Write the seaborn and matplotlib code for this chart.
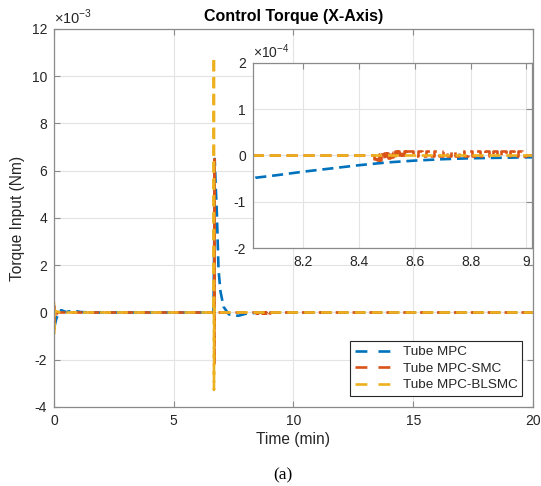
import matplotlib
matplotlib.use("Agg")
import matplotlib.pyplot as plt
import seaborn as sns
import pandas as pd

# ---- data (torque in 1e-3 Nm for the main view, time in minutes) ----
t_mpc = [0.0, 0.02, 0.1, 0.2, 0.3, 0.5, 0.8, 1.1, 1.5, 6.66, 6.69, 6.71, 6.75,
         6.80, 6.87, 6.95, 7.08, 7.3, 7.7, 8.03, 8.1, 8.2, 8.3, 8.4, 8.5,
         8.6, 8.7, 8.8, 8.9, 9.0, 10.0, 20.0]
u_mpc = [0.0, -0.6, -0.25, -0.05, 0.1, 0.02, 0.08, 0.02, 0.0, 0.0, 3.0, 6.5, 5.4,
         4.2, 1.8, 0.9, 0.24, -0.08, -0.14, -0.048, -0.043, -0.035, -0.028,
         -0.021, -0.015, -0.011, -0.008, -0.006, -0.005, -0.004, -0.001, 0.0]

t_smc = [0.0, 0.01, 0.02, 0.04, 0.1, 0.3, 6.665, 6.67, 6.675, 6.68, 6.69,
         8.450, 8.455, 8.460, 8.465, 8.470, 8.475, 8.480, 8.485, 8.490, 8.495,
         8.500, 8.505, 8.510, 8.515, 8.520, 8.525, 8.530, 8.535, 8.540, 8.545,
         8.550, 8.555, 8.560, 8.565, 8.570,
         8.580, 8.595, 8.610, 8.625, 8.640, 8.655, 8.670, 8.685, 8.700, 8.715,
         8.730, 8.745, 8.760, 8.775, 8.790, 8.805, 8.820, 8.835, 8.850, 8.865,
         8.880, 8.895, 8.910, 8.925, 8.940, 8.955, 8.970, 8.985, 9.000, 20.0]
u_smc_e4 = [3.0, -6.0, 1.0, -0.5, 0.0, 0.0, 0.0, 65.0, -22.0, 2.0, 0.0,
            0.00, -0.08, 0.02, -0.10, 0.03, -0.09, 0.04, -0.07, 0.05, -0.06,
            0.06, -0.05, 0.07, -0.04, 0.08, -0.02, 0.09, -0.01, 0.10, 0.00,
            0.11, 0.01, 0.10, 0.02, 0.10,
            0.09, -0.01, 0.10, -0.02, 0.09, -0.01, 0.10, -0.02, 0.09, -0.01,
            0.10, -0.02, 0.09, -0.01, 0.10, -0.02, 0.09, -0.01, 0.10, -0.02,
            0.09, -0.01, 0.10, -0.02, 0.09, -0.01, 0.10, -0.02, 0.00, 0.0]

t_bl = [0.0, 0.01, 0.03, 0.1, 0.25, 6.67, 6.675, 6.68, 6.69, 6.70, 20.0]
u_bl = [0.45, -0.95, 0.0, 0.05, 0.0, 0.0, 10.8, -3.28, 0.2, 0.0, 0.0]

labels = ["Tube MPC", "Tube MPC-SMC", "Tube MPC-BLSMC"]
colors = ["#0072BD", "#D95319", "#EDB120"]

main_xticks = [0, 5, 10, 15, 20]
main_yticks = [-4, -2, 0, 2, 4, 6, 8, 10, 12]
inset_xticks = [8.2, 8.4, 8.6, 8.8, 9.0]
inset_xticklabels = ["8.2", "8.4", "8.6", "8.8", "9"]
inset_yticks = [-2, -1, 0, 1, 2]

u_smc = [v / 10.0 for v in u_smc_e4]

df_mpc = pd.DataFrame({"t": t_mpc, "u": u_mpc})
df_smc = pd.DataFrame({"t": t_smc, "u": u_smc})
df_bl = pd.DataFrame({"t": t_bl, "u": u_bl})
frames = [df_mpc, df_smc, df_bl]
drawstyles = ["default", "steps-post", "default"]

# dash pattern (in units of line width) and per-series phase
ON, OFF = 4.2, 2.2
offsets = [OFF / 2, OFF, 0.0]

sns.set_theme(style="whitegrid")
plt.rcParams["font.family"] = ["Liberation Sans", "DejaVu Sans"]
plt.rcParams["mathtext.fontset"] = "custom"
plt.rcParams["mathtext.rm"] = "Liberation Sans"

gridc = "#e3e3e3"
tickc = "#262626"
spinec = "#8a8a8a"

fig = plt.figure(figsize=(5.41, 4.86), dpi=100)
ax = fig.add_axes([0.0998, 0.1626, 0.8854, 0.7778])
ax.set_facecolor("white")

lw = 1.9
for df, lab, col, ds in zip(frames, labels, colors, drawstyles):
    sns.lineplot(data=df, x="t", y="u", ax=ax, color=col, label=lab,
                 estimator=None, sort=False, linewidth=lw, drawstyle=ds)
for line, off in zip(ax.lines, offsets):
    line.set_linestyle((off, (ON, OFF)))

ax.set_xlim(0, 20)
ax.set_ylim(-4, 12)
ax.set_xticks(main_xticks)
ax.set_yticks(main_yticks)
ax.set_xticklabels([str(v) for v in main_xticks])
ax.set_yticklabels([str(v) for v in main_yticks])
ax.grid(True, color=gridc, linewidth=0.8)
for s in ax.spines.values():
    s.set_color(spinec)
    s.set_linewidth(0.9)
ax.tick_params(direction="in", length=4, width=0.8, color=spinec,
               labelsize=10, labelcolor=tickc, top=True, right=True,
               bottom=True, left=True, pad=5)
ax.set_xlabel("Time (min)", fontsize=11.2, color=tickc, labelpad=3)
ax.set_ylabel("Torque Input (Nm)", fontsize=11.2, color=tickc, labelpad=5)
ax.set_title("Control Torque (X-Axis)", fontsize=11.5, fontweight="bold",
             color="black", pad=6)
ax.text(0.0, 1.005, r"$\times10^{-3}$", transform=ax.transAxes,
        fontsize=10.5, color=tickc, ha="left", va="bottom")

leg = ax.legend(loc="lower right", bbox_to_anchor=(0.977, 0.029),
                fontsize=9.7, frameon=True, fancybox=False, framealpha=1,
                edgecolor="#262626", handlelength=2.6, borderpad=0.35,
                labelspacing=0.3, handletextpad=0.95, borderaxespad=0)
leg.get_frame().set_linewidth(0.8)
for h in leg.get_lines():
    h.set_linestyle((0, (4.5, 4.2)))
    h.set_drawstyle("default")

# zoomed view of the settling region
ins = fig.add_axes([0.4677, 0.4897, 0.5157, 0.3807])
ins.set_facecolor("white")
for df, col, ds in zip(frames, colors, drawstyles):
    dfi = df.assign(u=df["u"] * 10.0)
    sns.lineplot(data=dfi, x="t", y="u", ax=ins, color=col,
                 estimator=None, sort=False, linewidth=lw, drawstyle=ds,
                 legend=False)
for line in ins.lines:
    line.set_linestyle((0, (ON, OFF)))
ins.set_xlim(8.02, 9.02)
ins.set_ylim(-2, 2)
ins.set_xticks(inset_xticks)
ins.set_xticklabels(inset_xticklabels)
ins.set_yticks(inset_yticks)
ins.set_yticklabels([str(v) for v in inset_yticks])
ins.set_xlabel("")
ins.set_ylabel("")
ins.grid(True, color=gridc, linewidth=0.8)
for s in ins.spines.values():
    s.set_color(spinec)
    s.set_linewidth(0.9)
ins.tick_params(direction="in", length=4, width=0.8, color=spinec,
                labelsize=10, labelcolor=tickc, top=True, right=True,
                pad=5)
ins.text(0.0, 1.01, r"$\times10^{-4}$", transform=ins.transAxes,
         fontsize=10, color=tickc, ha="left", va="bottom")

fig.text(0.523, 0.021, "(a)", ha="center", va="center", fontsize=12.5,
         family=["Liberation Serif", "DejaVu Serif"], color="black")

fig.savefig("out.png", dpi=100)
